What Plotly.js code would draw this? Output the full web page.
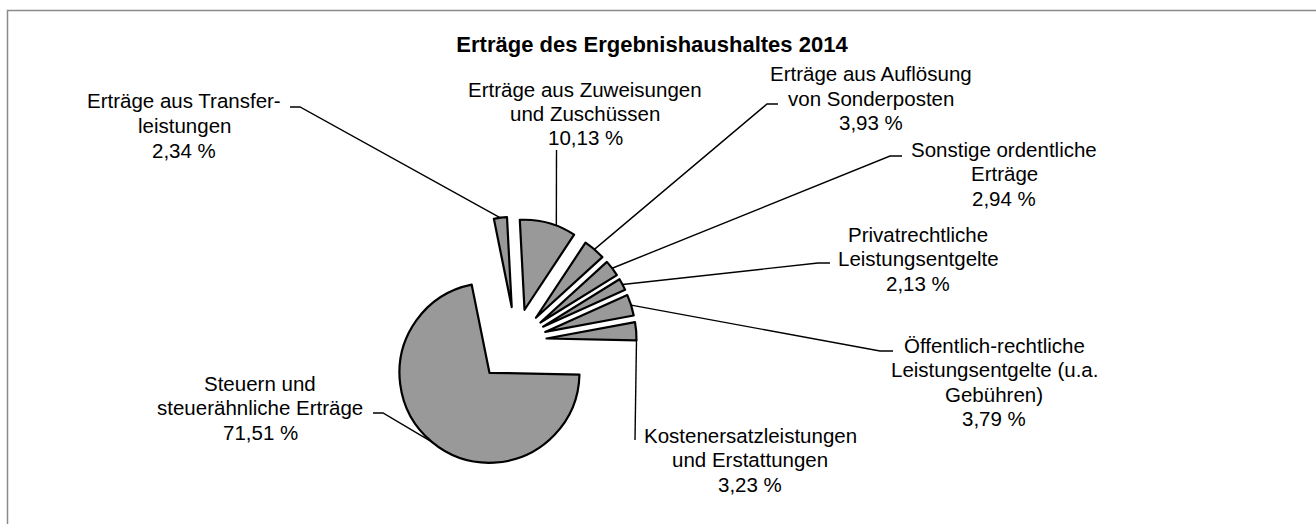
<!DOCTYPE html>
<html>
<head>
<meta charset="utf-8">
<script src="https://cdn.plot.ly/plotly-3.0.1.min.js"></script>
<style>
html, body { margin: 0; padding: 0; background: #ffffff; overflow: hidden; }
#chart { width: 1316px; height: 524px; }
</style>
</head>
<body>
<div id="chart"></div>
<script>
// ---------- data ----------
const chartTitle = "Erträge des Ergebnishaushaltes 2014";
const categories = [
  "Erträge aus Zuweisungen und Zuschüssen",
  "Erträge aus Auflösung von Sonderposten",
  "Sonstige ordentliche Erträge",
  "Privatrechtliche Leistungsentgelte",
  "Öffentlich-rechtliche Leistungsentgelte (u.a. Gebühren)",
  "Kostenersatzleistungen und Erstattungen",
  "Steuern und steuerähnliche Erträge",
  "Erträge aus Transferleistungen"
];
const shares = [10.13, 3.93, 2.94, 2.13, 3.79, 3.23, 71.51, 2.34];
const labelLines = [
  ["Erträge aus Zuweisungen", "und Zuschüssen"],
  ["Erträge aus Auflösung", "von Sonderposten"],
  ["Sonstige ordentliche", "Erträge"],
  ["Privatrechtliche", "Leistungsentgelte"],
  ["Öffentlich-rechtliche", "Leistungsentgelte (u.a.", "Gebühren)"],
  ["Kostenersatzleistungen", "und Erstattungen"],
  ["Steuern und", "steuerähnliche Erträge"],
  ["Erträge aus Transfer-", "leistungen"]
];

// ---------- layout / style ----------
const W = 1316, H = 524;
const CX = 516, CY = 341, R = 90;           // pie centre & radius in pixels
const rotation = -3;
const pulls = [0.36, 0.34, 0.34, 0.34, 0.34, 0.34, 0.46, 0.38];
const FONT = "Liberation Sans, Arial, sans-serif";
const FS = 20.5, LINE_STEP = 24.5;

// label placement (pixels): text centre x, first line y, leader elbow, stub end, anchor fraction on arc
const labelPos = [
  { x: 585, y: 89,  elbow: [556.5, 150], stub: null,       frac: 0.65 },
  { x: 871, y: 74,  elbow: [767, 104],   stub: [778, 104], frac: 0.5 },
  { x: 1004, y: 149, elbow: [890, 156],  stub: [902, 156], frac: 0.5 },
  { x: 918, y: 234, elbow: [818, 263],   stub: [830, 263], frac: 0.5 },
  { x: 994, y: 345, elbow: [880, 351],   stub: [893, 351], frac: 0.5 },
  { x: 750, y: 435, elbow: [635, 440],   stub: null,       frac: 1.0 },
  { x: 260, y: 383, elbow: [383, 413],   stub: [373, 413], frac: 0.5 },
  { x: 184, y: 101, elbow: [300, 107],   stub: [290, 107], frac: 0.5 }
];

const px = x => x / W;
const py = y => 1 - y / H;
const pct = v => v.toFixed(2).replace(".", ",") + " %";

// ---------- geometry from data ----------
const maxPull = Math.max(...pulls);
const half = R * (1 + maxPull);
const total = shares.reduce((a, b) => a + b, 0);
const deg = Math.PI / 180;

const shapes = [];
const annotations = [];
let cum = rotation;
shares.forEach((v, i) => {
  const a0 = cum, a1 = cum + 360 * v / total;
  cum = a1;
  const mid = (a0 + a1) / 2;
  const sx = CX + pulls[i] * R * Math.sin(mid * deg);
  const sy = CY - pulls[i] * R * Math.cos(mid * deg);
  const lp = labelPos[i];
  const ang = a0 + lp.frac * (a1 - a0);
  const ax = sx + R * Math.sin(ang * deg);
  const ay = sy - R * Math.cos(ang * deg);
  let path = `M ${px(ax)} ${py(ay)} L ${px(lp.elbow[0])} ${py(lp.elbow[1])}`;
  if (lp.stub) path += ` L ${px(lp.stub[0])} ${py(lp.stub[1])}`;
  shapes.push({ type: "path", xref: "paper", yref: "paper", path: path,
                line: { color: "#000000", width: 1.4 } });
  const lines = labelLines[i].concat([pct(v)]);
  lines.forEach((t, k) => {
    annotations.push({
      xref: "paper", yref: "paper", x: px(lp.x), y: py(lp.y + k * LINE_STEP),
      xanchor: "center", yanchor: "middle", showarrow: false, text: t,
      font: { family: FONT, size: FS, color: "#000000" }
    });
  });
});

// chart frame (left and top edges visible, rest runs off the canvas)
shapes.push({ type: "path", xref: "paper", yref: "paper",
  path: `M ${px(7.5)} ${py(H + 50)} L ${px(7.5)} ${py(10.5)} L ${px(W + 50)} ${py(10.5)}`,
  line: { color: "#8a8a8a", width: 1.5 }, layer: "below" });

const trace = {
  type: "pie",
  values: shares,
  labels: categories,
  sort: false,
  direction: "clockwise",
  rotation: rotation,
  pull: pulls,
  textinfo: "none",
  hoverinfo: "none",
  showlegend: false,
  marker: { colors: shares.map(() => "#999999"), line: { color: "#000000", width: 2.2 } },
  domain: { x: [px(CX - half), px(CX + half)], y: [py(CY + half), py(CY - half)] }
};

const layout = {
  width: W, height: H,
  margin: { l: 0, r: 0, t: 0, b: 0 },
  paper_bgcolor: "#ffffff",
  plot_bgcolor: "#ffffff",
  showlegend: false,
  title: { text: "<b>" + chartTitle + "</b>", x: px(652), xanchor: "center",
           y: py(44), yanchor: "middle", font: { family: FONT, size: 22, color: "#000000" } },
  shapes: shapes,
  annotations: annotations
};

Plotly.newPlot("chart", [trace], layout, { staticPlot: true, displayModeBar: false });
</script>
</body>
</html>
